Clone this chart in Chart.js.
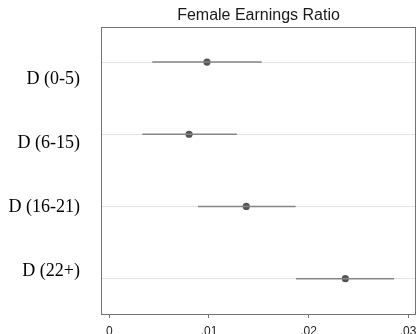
<!DOCTYPE html>
<html>
<head>
<meta charset="utf-8">
<script src="https://cdn.jsdelivr.net/npm/chart.js@4"></script>
<style>
  body { margin: 0; background: #fff; }
</style>
</head>
<body>
<canvas id="chart" width="420" height="334"></canvas>
<script>
// Values
const rowLabels = ['D (0-5)', 'D (6-15)', 'D (16-21)', 'D (22+)'];
const estimates = [0.0098, 0.0080, 0.01375, 0.0237];
const lowerCI = [0.0043, 0.0033, 0.0089, 0.01875];
const upperCI = [0.0153, 0.0128, 0.0187, 0.0286];
const xTicks = [0, 0.01, 0.02, 0.03];
const chartTitle = 'Female Earnings Ratio';

const rows = rowLabels.map((_, i) => i);

// one line per confidence interval
const ciSets = rows.map(i => ({
    type: 'scatter',
    showLine: true,
    data: [{ x: lowerCI[i], y: i }, { x: upperCI[i], y: i }],
    borderColor: '#858585',
    borderWidth: 1.5,
    pointRadius: 0,
    yAxisID: 'y'
}));

const pointSet = {
    type: 'scatter',
    data: rows.map(i => ({ x: estimates[i], y: i })),
    backgroundColor: '#555555',
    borderWidth: 0,
    pointRadius: 3.6,
    yAxisID: 'y'
};

// frame round the plot and the title over it
const framePlugin = {
    id: 'frame',
    afterDraw(chart) {
        const { ctx, chartArea: a } = chart;
        ctx.save();
        ctx.strokeStyle = '#727272';
        ctx.lineWidth = 1;
        ctx.strokeRect(Math.round(a.left) + 0.5, Math.round(a.top) + 0.5,
            Math.round(a.right - a.left) - 1, Math.round(a.bottom - a.top));
        ctx.fillStyle = '#1a1a1a';
        ctx.font = '16px "Liberation Sans", Arial, sans-serif';
        ctx.textAlign = 'center';
        ctx.textBaseline = 'alphabetic';
        ctx.fillText(chartTitle, (a.left + a.right) / 2, 20);
        ctx.restore();
    }
};

const noPad = s => { s.paddingTop = 0; s.paddingBottom = 0; s.paddingLeft = 0; s.paddingRight = 0; };

new Chart(document.getElementById('chart'), {
    data: { datasets: [...ciSets, pointSet] },
    plugins: [framePlugin],
    options: {
        responsive: false,
        animation: false,
        devicePixelRatio: 1,
        layout: { padding: { top: 27, right: 3, left: 0, bottom: 0 } },
        plugins: {
            legend: { display: false },
            tooltip: { enabled: false }
        },
        scales: {
            x: {
                type: 'linear',
                position: 'bottom',
                min: -0.00085,
                max: 0.0308,
                afterBuildTicks: s => { s.ticks = xTicks.map(v => ({ value: v })); },
                afterFit: s => { s.height = 20; noPad(s); },
                grid: { drawOnChartArea: false, tickLength: 4, color: '#777' },
                border: { display: false },
                ticks: {
                    padding: 6,
                    color: '#222',
                    font: { family: '"Liberation Sans", Arial, sans-serif', size: 12 },
                    callback: v => v === 0 ? '0' : String(v).replace(/^0/, '')
                }
            },
            y: {
                type: 'linear',
                position: 'right',
                reverse: true,
                min: -0.486,
                max: 3.49,
                afterBuildTicks: s => { s.ticks = rows.map(v => ({ value: v })); },
                afterFit: s => { s.width = 0; noPad(s); },
                grid: { color: '#e4e4e4', lineWidth: 1, drawTicks: false },
                border: { display: false },
                ticks: { display: false }
            },
            yLabels: {
                type: 'linear',
                position: 'left',
                reverse: true,
                min: -0.8125,
                max: 3.672,
                afterBuildTicks: s => { s.ticks = rows.map(v => ({ value: v })); },
                afterFit: s => { s.width = 101; noPad(s); },
                grid: { display: false, drawTicks: false },
                border: { display: false },
                ticks: {
                    padding: 21,
                    color: '#000',
                    font: { family: '"Liberation Serif", "Times New Roman", serif', size: 18 },
                    callback: v => rowLabels[v]
                }
            }
        }
    }
});
</script>
</body>
</html>
